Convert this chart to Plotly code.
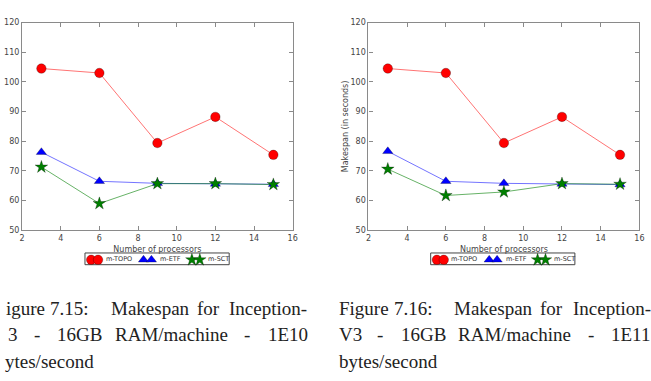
import plotly.graph_objects as go

W, H = 651, 381

# ---------------- data ----------------
processors = [3, 6, 9, 12, 15]
series_names = ["m-TOPO", "m-ETF", "m-SCT"]

topo_1e10 = [104.5, 103.0, 79.4, 88.2, 75.4]
etf_1e10 = [76.3, 66.5, 65.8, 65.6, 65.5]
sct_1e10 = [71.3, 59.0, 65.7, 65.7, 65.4]

topo_1e11 = [104.5, 103.0, 79.4, 88.2, 75.4]
etf_1e11 = [76.6, 66.5, 65.8, 65.6, 65.4]
sct_1e11 = [70.6, 61.7, 62.9, 65.7, 65.5]

x_ticks = [2, 4, 6, 8, 10, 12, 14, 16]
y_ticks = [50, 60, 70, 80, 90, 100, 110, 120]

x_title = "Number of processors"
y_title = "Makespan (in seconds)"

# left caption is cropped by the page edge in the reference: only the visible part is shown
caption_left = [
    ["igure", "7.15:", "Makespan", "for", "Inception-"],
    ["3", "-", "16GB", "RAM/machine", "-", "1E10"],
    ["ytes/second"],
]
caption_right = [
    ["Figure", "7.16:", "Makespan", "for", "Inception-"],
    ["V3", "-", "16GB", "RAM/machine", "-", "1E11"],
    ["bytes/second"],
]

# ---------------- styling / layout ----------------
word_x_right = [
    [338, 394, 455, 542, 575],
    [338, 377, 401, 459, 590, 614],
    [338],
]
word_x_left = [
    [1, 46, 107, 194, 227],
    [3, 29, 53, 111, 242, 266],
    [0],
]
line_y = [312, 339, 366]

styles = [
    dict(symbol="circle", size=9.5, color="#ff0000", line="rgba(255,0,0,0.55)"),
    dict(symbol="triangle-up", size=9, color="#0000ff", line="rgba(0,0,255,0.55)"),
    dict(symbol="star", size=9.5, color="#007f00", line="rgba(0,127,0,0.6)"),
]

# legend geometry (left panel, px); right panel is shifted by 350 px
legend_symbol_px = [(89, 96), (142, 150), (191, 199)]   # two symbols per entry
legend_text_px = [102, 157, 206]
legend_y_px = 261
panel_offset_px = [0, 350]
legend_box_px = (83, 229, 255, 267)

fig = go.Figure()

panels = [
    ("x", "y", [topo_1e10, etf_1e10, sct_1e10]),
    ("x2", "y2", [topo_1e11, etf_1e11, sct_1e11]),
]
legend_layout = {}
shapes = []
annotations = []
lg_index = 1
for (xa, ya, data), off in zip(panels, panel_offset_px):
    for name, vals, st in zip(series_names, data, styles):
        fig.add_trace(go.Scatter(
            x=processors, y=vals, name=name, mode="lines+markers",
            xaxis=xa, yaxis=ya, showlegend=False, legendgroup=name,
            line=dict(color=st["line"], width=1),
            marker=dict(symbol=st["symbol"], size=st["size"], color=st["color"],
                        line=dict(color="rgba(0,0,0,0.45)", width=0.6)),
        ))
    for name, st, syms, tx in zip(series_names, styles, legend_symbol_px, legend_text_px):
        for sx in syms:
            lg = "legend" if lg_index == 1 else f"legend{lg_index}"
            fig.add_trace(go.Scatter(
                x=[None], y=[None], name=" ", mode="markers",
                xaxis=xa, yaxis=ya, legend=lg, showlegend=True, legendgroup=name,
                marker=dict(symbol=st["symbol"], size=st["size"], color=st["color"],
                            line=dict(color="rgba(0,0,0,0.45)", width=0.6)),
            ))
            legend_layout[lg] = dict(
                orientation="h", x=(sx + off - 20) / W, xanchor="left",
                y=1 - (legend_y_px + 1) / H, yanchor="middle",
                font=dict(family="DejaVu Sans", size=6.5, color="#333333"),
                borderwidth=0, itemwidth=30, bgcolor="rgba(0,0,0,0)",
            )
            lg_index += 1
        annotations.append(dict(
            text=name, xref="paper", yref="paper", x=(tx + off) / W, y=1 - legend_y_px / H,
            xanchor="left", yanchor="middle", showarrow=False,
            font=dict(family="DejaVu Sans", size=6.5, color="#333333"),
        ))
    x0, x1, y0, y1 = legend_box_px
    shapes.append(dict(type="rect", xref="paper", yref="paper",
                       x0=(x0 + off) / W, x1=(x1 + off) / W,
                       y0=1 - y1 / H, y1=1 - y0 / H,
                       line=dict(color="#444444", width=1), layer="below"))

tick_font = dict(family="DejaVu Sans", size=8, color="#444444")
axis_common = dict(
    showgrid=False, zeroline=False, showline=True, linecolor="#8a8a8a", linewidth=1.2,
    mirror="ticks", ticks="inside", ticklen=4, tickwidth=1, tickcolor="#8a8a8a",
    tickfont=tick_font,
)

ydom = [1 - 231.7 / H, 1 - 19 / H]
fig.update_layout(
    width=W, height=H,
    margin=dict(l=0, r=0, t=0, b=0),
    paper_bgcolor="white", plot_bgcolor="white",
    xaxis=dict(domain=[19.3 / W, 293.3 / W], range=[2, 16], tickvals=x_ticks,
               anchor="y", title=dict(text=x_title, standoff=4, font=tick_font),
               **axis_common),
    yaxis=dict(domain=ydom, range=[50, 120], tickvals=y_ticks, anchor="x", **axis_common),
    xaxis2=dict(domain=[370 / W, 644.3 / W], range=[2, 16], tickvals=x_ticks,
                anchor="y2", title=dict(text=x_title, standoff=4, font=tick_font),
                **axis_common),
    yaxis2=dict(domain=ydom, range=[50, 120], tickvals=y_ticks, anchor="x2",
                title=dict(text=y_title, standoff=0, font=tick_font),
                **axis_common),
    showlegend=True,
    shapes=shapes,
    **legend_layout,
)

for caption, xs_all in [(caption_left, word_x_left), (caption_right, word_x_right)]:
    for words, xs, yy in zip(caption, xs_all, line_y):
        for w, xx in zip(words, xs):
            annotations.append(dict(
                text=w, xref="paper", yref="paper", x=xx / W, y=1 - yy / H,
                xanchor="left", yanchor="middle", showarrow=False,
                font=dict(family="Liberation Serif", size=19, color="#222222"),
            ))
fig.update_layout(annotations=annotations)

fig.write_html("out.html")
